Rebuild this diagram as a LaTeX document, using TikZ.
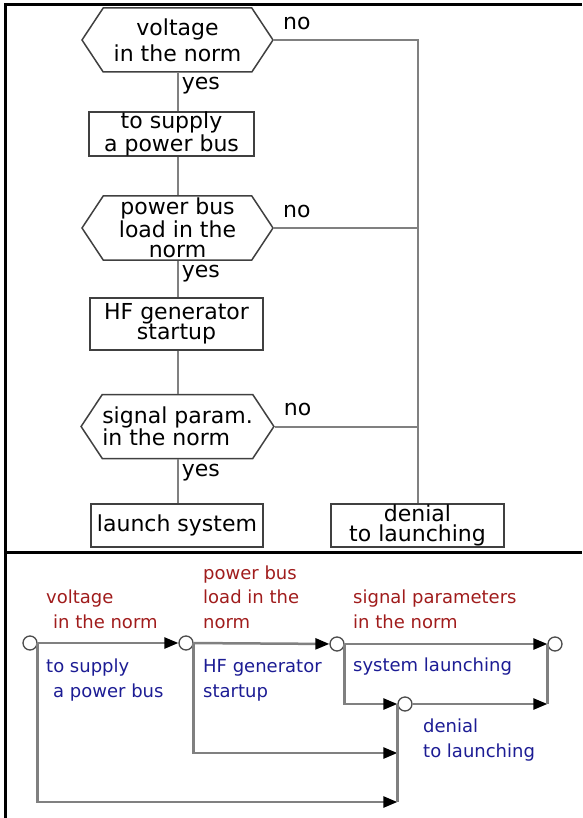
\documentclass[tikz,border=0pt]{standalone}
\usepackage{fontspec}
\setmainfont{DejaVu Sans}
\usepackage{tikz}
\usetikzlibrary{shapes.symbols,arrows.meta,positioning}
\definecolor{normred}{HTML}{A01C1C}
\definecolor{normblue}{HTML}{1C1C94}
\definecolor{wire}{HTML}{808080}

\begin{document}
\begin{tikzpicture}[x=1pt,y=-1pt,every node/.style={font=\fontsize{22}{20.5}\selectfont}]
  \tikzstyle{decision} = [signal, signal to=west and east, signal pointer angle=113,
      draw=black!75, line width=1.5pt, minimum width=191pt, minimum height=64pt,
      inner sep=0pt, align=center]
  \tikzstyle{action} = [rectangle, draw=black!75, line width=1.5pt, inner sep=0pt,
      align=center]
  \tikzstyle{wireline} = [draw=wire, line width=2pt]
  \tikzstyle{flow} = [draw=wire, line width=2.5pt,
      -{Triangle[length=14pt, width=11pt, color=black]}]
  \tikzstyle{junction} = [circle, draw=black!70, fill=white, line width=1.3pt,
      minimum size=14pt, inner sep=0pt]
  % anchored at the baseline of the last line
  \tikzstyle{redtxt} = [text=normred, font=\fontsize{18}{24.5}\selectfont,
      align=left, inner sep=0pt, anchor=base west]
  \tikzstyle{bluetxt} = [text=normblue, font=\fontsize{18}{25}\selectfont,
      align=left, inner sep=0pt, anchor=base west]

  \useasboundingbox (0,0) rectangle (582,818);
  % frame: top, left and the divider between the two views
  \draw[line width=3pt] (582,5) -- (5,5) -- (5,818);
  \draw[line width=3pt] (5,552) -- (582,552);

  % upper view: flowchart
  \node (volt)   [decision]              at (177.5,40)    {voltage\\[4pt]in the norm};
  \node (bus)    [action, minimum width=165pt, minimum height=42pt]
                                         at (171.5,134)   {to supply\\a power bus};
  \node (load)   [decision]              at (177.5,228)   {power bus\\load in the\\norm};
  \node (hf)     [action, minimum width=173pt, minimum height=52pt]
                                         at (176.5,324)   {HF generator\\startup};
  \node (param)  [decision, align=left]  at (177.5,426.5) {signal param.\\in the norm};
  \node (launch) [action, minimum width=172pt, minimum height=43pt]
                                         at (177,525.5)   {launch system};
  \node (deny)   [action, minimum width=173pt, minimum height=43pt]
                                         at (417.5,525.5) {denial\\to launching};

  \draw[wireline] (volt.south) -- node[right, pos=0.34] (yes1) {yes} (volt.south |- bus.north);
  \draw[wireline] (volt.south |- bus.south) -- (load.north);
  \draw[wireline] (load.south) -- node[right, pos=0.34] (yes2) {yes} (load.south |- hf.north);
  \draw[wireline] (load.south |- hf.south) -- (param.north);
  \draw[wireline] (param.south) -- node[right, pos=0.3] (yes3) {yes} (param.south |- launch.north);
  \draw[wireline] (volt.east) -| node[above=6pt, pos=0.08] (no1) {no} (deny.north);
  \draw[wireline] (load.east) -- node[above=6pt, pos=0.16] (no2) {no} (load.east -| deny.north);
  \draw[wireline] (param.east) -- node[above=6pt, pos=0.16] (no3) {no} (param.east -| deny.north);

  % lower view: the same logic as a graph
  \node (jv)   [junction] at (30,643)  {};
  \node (jl)   [junction] at (186,643) {};
  \node (js)   [junction] at (337,644) {};
  \node (jend) [junction] at (555,644) {};
  \node (jden) [junction] at (405,704) {};

  \node (tvolt)   [redtxt]  at (46,628)  {voltage\\\hspace*{7pt}in the norm};
  \node (tload)   [redtxt]  at (203,628) {power bus\\load in the\\norm};
  \node (tparam)  [redtxt]  at (353,628) {signal parameters\\in the norm};
  \node (tbus)    [bluetxt] at (46,697)  {to supply\\\hspace*{7pt}a power bus};
  \node (thf)     [bluetxt] at (203,697) {HF generator\\startup};
  \node (tlaunch) [bluetxt] at (353,671) {system launching};
  \node (tdeny)   [bluetxt] at (423,757) {denial\\to launching};

  \coordinate (in2) at (jden.west |- 0,753);
  \coordinate (in3) at (jden.west |- 0,802);
  \coordinate (out) at (jend.west |- jden);

  \draw[flow] (jv) -- (jl);
  \draw[flow] (jl) -- (js);
  \draw[flow] (js) -- (jend);
  \draw[flow] (js.east) |- (jden);
  \draw[flow] (jl.east) |- (in2);
  \draw[flow] (jv.east) |- (in3);
  \draw[draw=wire, line width=2.5pt] (in3) -- (jden.west);
  \draw[flow] (jden) -- (out);
  \draw[draw=wire, line width=2.5pt] (out) -- (jend.west);
\end{tikzpicture}
\end{document}
